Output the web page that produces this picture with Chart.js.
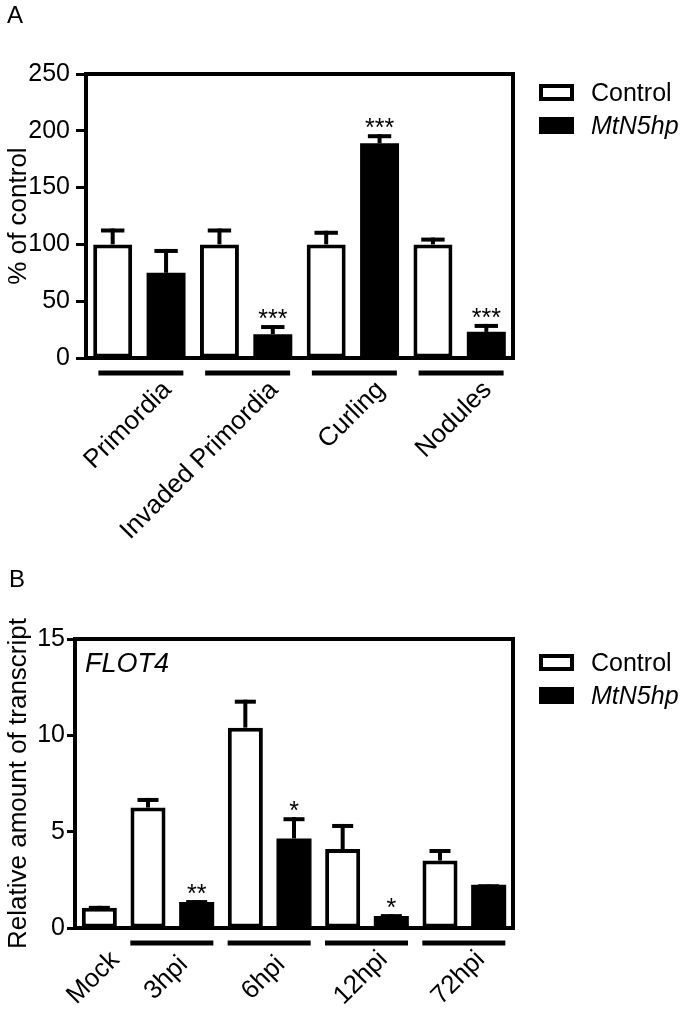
<!DOCTYPE html>
<html>
<head>
<meta charset="utf-8">
<script src="https://cdn.jsdelivr.net/npm/chart.js@4.4.1/dist/chart.umd.min.js"></script>
<style>
    body { margin: 0; background: #fff; }
    .panel { position: absolute; left: 0; width: 685px; }
    #panel-a { top: 0; height: 560px; }
    #panel-b { top: 520px; height: 493px; }
</style>
</head>
<body>
<div class="panel" id="panel-a"><canvas id="nodulation-chart"></canvas></div>
<div class="panel" id="panel-b"><canvas id="flot-chart"></canvas></div>
<script>
const seriesNames = ['Control', 'MtN5hp'];

// Panel A - nodulation phenotypes
const nodCategories = ['Primordia', 'Invaded Primordia', 'Curling', 'Nodules'];
const nodControl = [100, 100, 100, 100];
const nodControlErr = [14, 14, 12, 6];
const nodMutant = [75, 21, 189, 23];
const nodMutantErr = [21, 8, 8, 7];
const nodMutantStars = ['', '***', '***', '***'];
const nodTicks = [0, 50, 100, 150, 200, 250];

// Panel B - FLOT4 transcript
const flotCategories = ['Mock', '3hpi', '6hpi', '12hpi', '72hpi'];
const flotControl = [1.05, 6.25, 10.4, 4.1, 3.5];
const flotControlErr = [0.1, 0.5, 1.45, 1.3, 0.6];
const flotMutant = [null, 1.35, 4.65, 0.62, 2.25];
const flotMutantErr = [null, 0.1, 1.1, 0.1, 0.02];
const flotMutantStars = ['', '**', '*', '*', ''];
const flotTicks = [0, 5, 10, 15];

const FONT = '"Liberation Sans", Arial, Helvetica, sans-serif';
Chart.defaults.font.family = FONT;
Chart.defaults.color = '#000';

// error bars, stars, frame, group lines, labels, legend
const decorPlugin = {
    id: 'decor',
    afterDatasetsDraw(chart, args, opts) {
        const ctx = chart.ctx;
        const area = chart.chartArea;
        const x = chart.scales.x;
        const y = chart.scales.y;
        ctx.save();

        chart.data.datasets.forEach((ds, di) => {
            const meta = chart.getDatasetMeta(di);
            meta.data.forEach((bar, i) => {
                const v = ds.data[i];
                if (v == null) return;
                const err = ds.errors[i] || 0;
                const yErr = y.getPixelForValue(v + err);
                const capW = bar.width * 0.6;
                ctx.fillStyle = '#000';
                ctx.fillRect(bar.x - 2, yErr, 4, bar.y - yErr);
                ctx.fillRect(bar.x - capW / 2, yErr, capW, 4);
                if (ds.stars[i]) {
                    ctx.font = '25px ' + FONT;
                    ctx.textAlign = 'center';
                    ctx.textBaseline = 'alphabetic';
                    ctx.fillText(ds.stars[i], bar.x, yErr + 2);
                }
            });
        });

        ctx.strokeStyle = '#000';
        ctx.lineWidth = 4;
        ctx.strokeRect(area.left, area.top, area.right - area.left, area.bottom - area.top);

        opts.groups.forEach(g => {
            const px = g.slots.map(s => x.getPixelForValue(s));
            const cx = px.reduce((a, b) => a + b, 0) / px.length;
            if (g.line) {
                ctx.fillRect(cx + opts.lineFrom, opts.lineY - 2.5, opts.lineTo - opts.lineFrom, 5);
            }
            ctx.save();
            ctx.translate(cx + opts.labelDx, opts.labelY);
            ctx.rotate(-Math.PI / 4);
            ctx.font = '26px ' + FONT;
            ctx.textAlign = opts.labelAlign;
            ctx.textBaseline = 'middle';
            ctx.fillText(g.label, 0, 0);
            ctx.restore();
        });

        // legend
        chart.data.datasets.forEach((ds, di) => {
            const top = opts.legendTop + di * 33;
            ctx.fillStyle = ds.backgroundColor;
            ctx.fillRect(539, top, 35, 17);
            ctx.lineWidth = 4;
            ctx.strokeRect(541, top + 2, 31, 13);
            ctx.fillStyle = '#000';
            ctx.font = (di === 1 ? 'italic ' : '') + '25px ' + FONT;
            ctx.textAlign = 'left';
            ctx.textBaseline = 'alphabetic';
            ctx.fillText(ds.label, 591, top + 17);
        });

        ctx.font = '24px ' + FONT;
        ctx.fillText(opts.letter, opts.letterX, opts.letterY);
        if (opts.note) {
            ctx.font = 'italic 27px ' + FONT;
            ctx.fillText(opts.note, 85, opts.noteY);
        }
        ctx.restore();
    }
};

function barDataset(label, data, errors, stars, fill) {
    return {
        label: label,
        data: data,
        errors: errors,
        stars: stars,
        backgroundColor: fill,
        borderColor: '#000',
        borderWidth: fill === '#000' ? 0 : 4,
        borderSkipped: false,
        categoryPercentage: 1,
        barPercentage: 0.73,
        skipNull: true
    };
}

function yAxis(ticks, max, width, title, tickLength, padding) {
    return {
        min: 0,
        max: max,
        afterBuildTicks: s => { s.ticks = ticks.map(v => ({ value: v })); },
        afterFit: s => { s.width = width; },
        border: { display: false },
        grid: { drawOnChartArea: false, tickLength: tickLength, tickWidth: 3, tickColor: '#000' },
        ticks: { color: '#000', font: { size: 25 }, padding: padding },
        title: { display: true, text: title, color: '#000', font: { size: 26 }, padding: { top: 3, bottom: 0 } }
    };
}

class FigureManager {
    constructor() {
        this.nodChart = null;
        this.flotChart = null;
        this.createNodulationChart();
        this.createFlotChart();
    }

    createNodulationChart() {
        const ctx = document.getElementById('nodulation-chart').getContext('2d');
        this.nodChart = new Chart(ctx, {
            type: 'bar',
            data: {
                labels: nodCategories,
                datasets: [
                    barDataset(seriesNames[0], nodControl, nodControlErr, [], '#fff'),
                    barDataset(seriesNames[1], nodMutant, nodMutantErr, nodMutantStars, '#000')
                ]
            },
            options: {
                responsive: true,
                maintainAspectRatio: false,
                animation: false,
                events: [],
                layout: { padding: { top: 74, right: 172, bottom: 202, left: 0 } },
                scales: {
                    x: { display: false },
                    y: yAxis(nodTicks, 250, 86, '% of control', 10, 6)
                },
                plugins: {
                    legend: { display: false },
                    tooltip: { enabled: false },
                    decor: {
                        groups: nodCategories.map((c, i) => ({ label: c, slots: [i], line: true })),
                        lineY: 373, lineFrom: -41, lineTo: 44,
                        labelDx: 28, labelY: 386, labelAlign: 'right',
                        legendTop: 84,
                        letter: 'A', letterX: 7, letterY: 23
                    }
                }
            },
            plugins: [decorPlugin]
        });
    }

    createFlotChart() {
        // one slot per bar; Mock has control only
        const slotLabels = [], slotControl = [], slotMutant = [];
        const slotControlErr = [], slotMutantErr = [], slotStars = [];
        const groups = [];
        flotCategories.forEach((c, i) => {
            const slots = [slotLabels.length];
            slotLabels.push(c);
            slotControl.push(flotControl[i]); slotControlErr.push(flotControlErr[i]);
            slotMutant.push(null); slotMutantErr.push(null); slotStars.push('');
            if (flotMutant[i] != null) {
                slots.push(slotLabels.length);
                slotLabels.push(c);
                slotControl.push(null); slotControlErr.push(null);
                slotMutant.push(flotMutant[i]); slotMutantErr.push(flotMutantErr[i]);
                slotStars.push(flotMutantStars[i]);
            }
            groups.push({ label: c, slots: slots, line: slots.length > 1 });
        });

        const control = barDataset(seriesNames[0], slotControl, slotControlErr, [], '#fff');
        const mutant = barDataset(seriesNames[1], slotMutant, slotMutantErr, slotStars, '#000');
        control.barPercentage = mutant.barPercentage = 0.72;

        const ctx = document.getElementById('flot-chart').getContext('2d');
        this.flotChart = new Chart(ctx, {
            type: 'bar',
            data: { labels: slotLabels, datasets: [control, mutant] },
            options: {
                responsive: true,
                maintainAspectRatio: false,
                animation: false,
                events: [],
                layout: { padding: { top: 119, right: 172, bottom: 85, left: 0 } },
                scales: {
                    x: { display: false },
                    y: yAxis(flotTicks, 15, 75, 'Relative amount of transcript', 8, 2)
                },
                plugins: {
                    legend: { display: false },
                    tooltip: { enabled: false },
                    decor: {
                        groups: groups,
                        lineY: 423, lineFrom: -42, lineTo: 41,
                        labelDx: -6, labelY: 458, labelAlign: 'center',
                        legendTop: 134,
                        letter: 'B', letterX: 9, letterY: 67,
                        note: 'FLOT4', noteY: 152
                    }
                }
            },
            plugins: [decorPlugin]
        });
    }
}

window.figureManager = new FigureManager();
</script>
</body>
</html>
